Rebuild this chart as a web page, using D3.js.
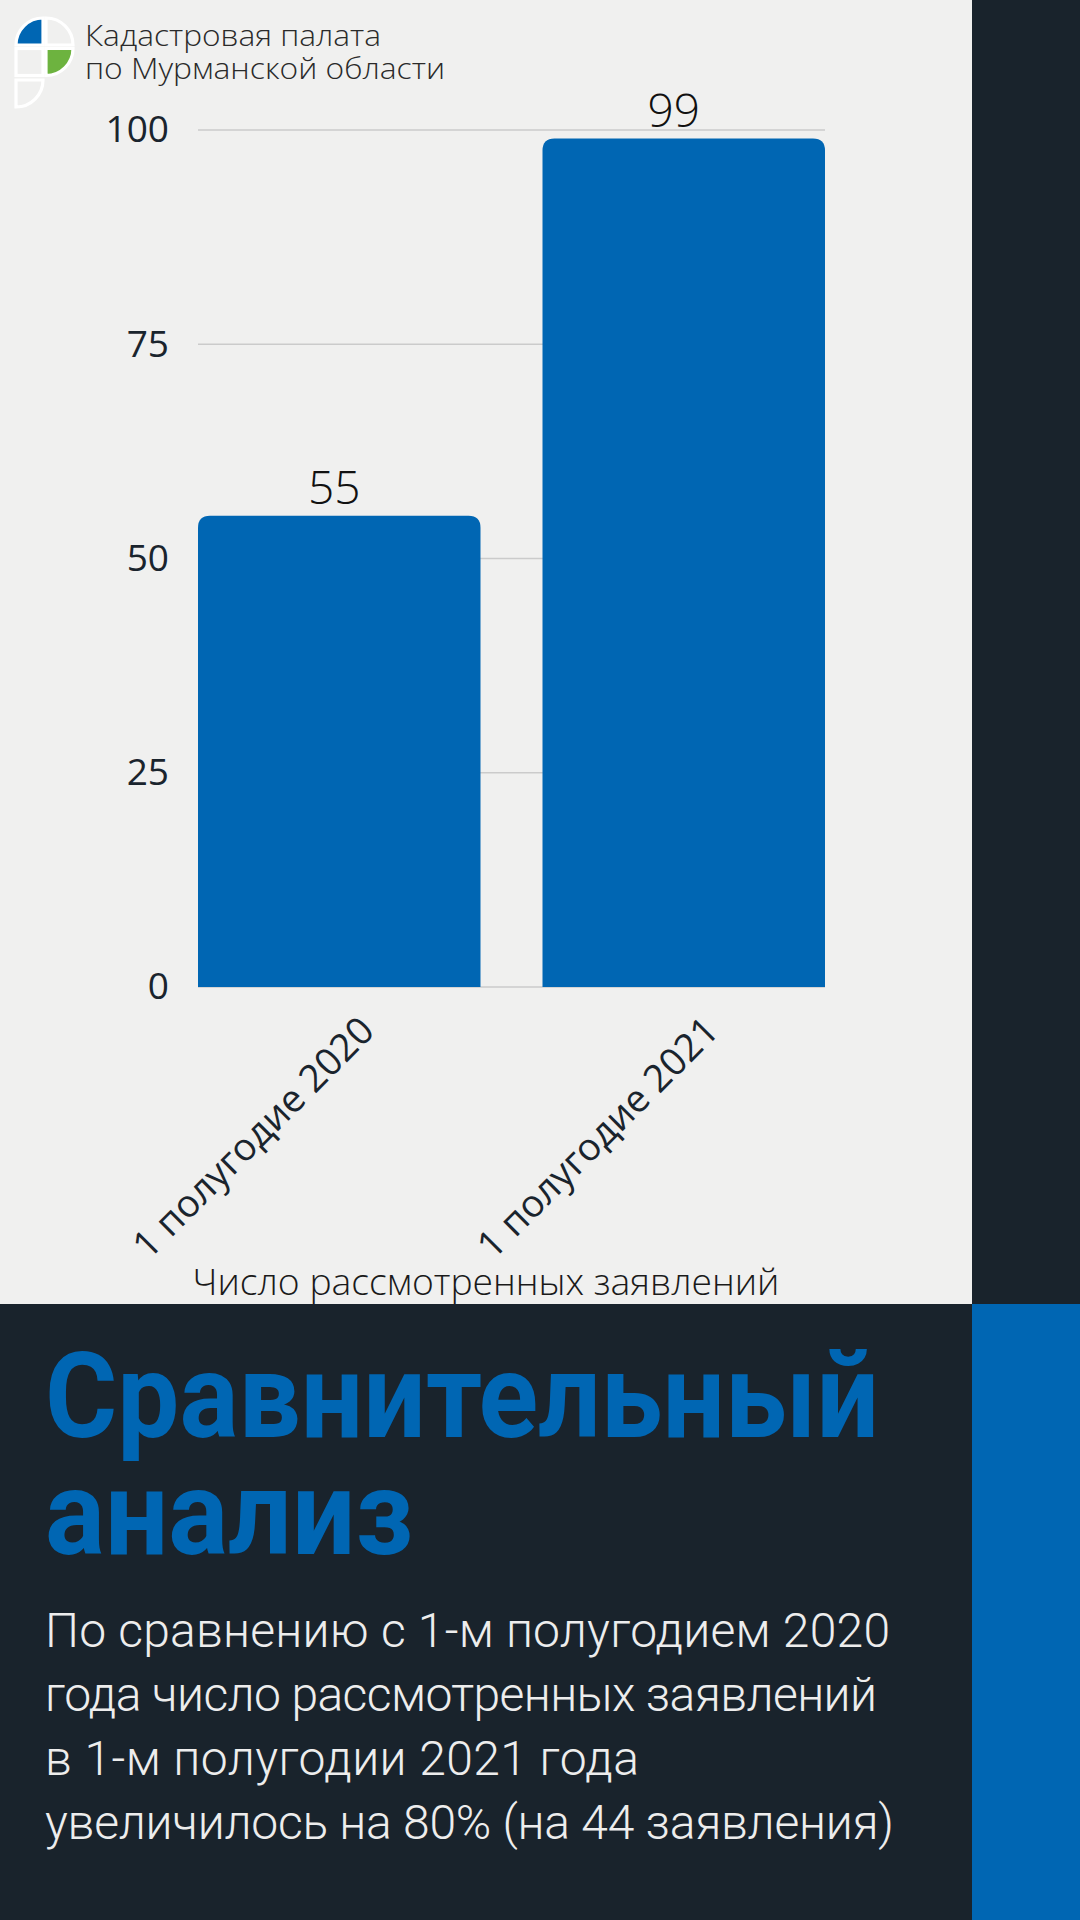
<!DOCTYPE html>
<html lang="ru">
<head>
<meta charset="utf-8">
<script src="https://cdn.jsdelivr.net/npm/d3@7"></script>
<style>
  html, body { margin: 0; padding: 0; background: #f0f0ef; }
  svg { display: block; }
</style>
</head>
<body>
<svg id="chart" width="1080" height="1920"></svg>
<script>
// Data
const categories = ["1 полугодие 2020", "1 полугодие 2021"];
const values = [55, 99];
const yTicks = [0, 25, 50, 75, 100];
const headerLines = ["Кадастровая палата", "по Мурманской области"];
const axisTitle = "Число рассмотренных заявлений";
const titleLines = ["Сравнительный", "анализ"];
const bodyLines = [
  "По сравнению с 1-м полугодием 2020",
  "года число рассмотренных заявлений",
  "в 1-м полугодии 2021 года",
  "увеличилось на 80% (на 44 заявления)"
];

// Layout widths for the text blocks
const headerWidths = [296, 360];
const titleWidths = [834, 368];
const bodyWidths = [845, 832, 594, 849];

const C = {
  bg: "#f0f0ef",
  dark: "#19232c",
  blue: "#0066b3",
  green: "#6db33f",
  grid: "#cbcbcb",
  ink: "#1a242d"
};

const svg = d3.select("#chart");
const W = 1080, H = 1920;
const panelW = 972, panelTop = 1304;

svg.append("rect").attr("width", W).attr("height", H).attr("fill", C.bg);

// Logo
const logo = svg.append("g").attr("stroke", "#ffffff").attr("stroke-width", 3.2).attr("stroke-linejoin", "miter");
const R = 27;
logo.append("path").attr("fill", C.blue)
  .attr("d", `M43,45 L${43 - R},45 A${R},${R} 0 0 1 43,${45 - R} Z`);
logo.append("path").attr("fill", C.bg)
  .attr("d", `M46,45 L46,${45 - R} A${R},${R} 0 0 1 ${46 + R},45 Z`);
logo.append("rect").attr("fill", C.bg).attr("x", 16).attr("y", 48.5).attr("width", 27).attr("height", 27);
logo.append("path").attr("fill", C.green)
  .attr("d", `M46,48.5 L${46 + R},48.5 A${R},${R} 0 0 1 46,${48.5 + R} Z`);
logo.append("path").attr("fill", C.bg)
  .attr("d", `M16,80 L43,80 A27,27 0 0 1 16,107 Z`);

svg.append("g").selectAll("text").data(headerLines).join("text")
  .attr("x", 85).attr("y", (d, i) => 46 + i * 33)
  .attr("font-family", "'Open Sans', sans-serif").attr("font-weight", 300)
  .attr("font-size", 29).attr("fill", "#2a2a2a")
  .attr("textLength", (d, i) => headerWidths[i]).attr("lengthAdjust", "spacingAndGlyphs")
  .text(d => d);

// Scales
const x = d3.scaleBand().domain(categories).range([198, 825]).paddingInner(0.18).paddingOuter(0);
const y = d3.scaleLinear().domain([0, 100]).range([987, 130]);

// Gridlines
svg.append("g").selectAll("line").data(yTicks).join("line")
  .attr("x1", 198).attr("x2", 825)
  .attr("y1", d => y(d)).attr("y2", d => y(d))
  .attr("stroke", C.grid).attr("stroke-width", 1.5);

// Y axis labels
const yAxis = svg.append("g").attr("transform", "translate(198,0)")
  .call(d3.axisLeft(y).tickValues(yTicks).tickSize(0).tickPadding(29));
yAxis.select(".domain").remove();
yAxis.selectAll("text")
  .attr("font-family", "'Open Sans', sans-serif").attr("font-size", 37).attr("fill", C.ink);

// Bars with rounded top corners
const rad = 12;
function barPath(d, i) {
  const x0 = x(categories[i]), w = x.bandwidth();
  const yt = y(d), yb = y(0);
  return `M${x0},${yb} L${x0},${yt + rad} Q${x0},${yt} ${x0 + rad},${yt} L${x0 + w - rad},${yt} Q${x0 + w},${yt} ${x0 + w},${yt + rad} L${x0 + w},${yb} Z`;
}
svg.append("g").selectAll("path").data(values).join("path")
  .attr("d", barPath).attr("fill", C.blue);

// Value labels
svg.append("g").selectAll("text").data(values).join("text")
  .attr("x", (d, i) => x(categories[i]) + x.bandwidth() / 2)
  .attr("y", d => y(d) - 12)
  .attr("dx", (d, i) => -5 - 5 * i)
  .attr("text-anchor", "middle")
  .attr("font-family", "'Open Sans', sans-serif").attr("font-weight", 300)
  .attr("font-size", 46).attr("fill", "#111111")
  .text(d => d);

// X axis labels (rotated)
const xAxis = svg.append("g").attr("transform", `translate(0,${y(0)})`)
  .call(d3.axisBottom(x).tickSize(0).tickPadding(0));
xAxis.select(".domain").remove();
xAxis.selectAll("text")
  .attr("font-family", "'Open Sans', sans-serif").attr("font-size", 38).attr("fill", C.ink)
  .attr("text-anchor", "end").attr("dy", null).attr("y", null)
  .attr("transform", "translate(37,46) rotate(-45)");

// Axis title
svg.append("text").attr("x", 486).attr("y", 1295).attr("text-anchor", "middle")
  .attr("font-family", "'Open Sans', sans-serif").attr("font-weight", 300)
  .attr("font-size", 37).attr("fill", "#1a1a1a")
  .attr("textLength", 587).attr("lengthAdjust", "spacingAndGlyphs")
  .text(axisTitle);

// Bottom panel and right strip
svg.append("rect").attr("x", 0).attr("y", panelTop).attr("width", panelW).attr("height", H - panelTop).attr("fill", C.dark);
svg.append("rect").attr("x", panelW).attr("y", 0).attr("width", W - panelW).attr("height", panelTop).attr("fill", C.dark);
svg.append("rect").attr("x", panelW).attr("y", panelTop).attr("width", W - panelW).attr("height", H - panelTop).attr("fill", C.blue);

// Title
svg.append("g").selectAll("text").data(titleLines).join("text")
  .attr("x", 45).attr("y", (d, i) => 1437 + i * 117)
  .attr("font-family", "Roboto, sans-serif").attr("font-weight", 700)
  .attr("font-size", 118).attr("fill", C.blue)
  .attr("textLength", (d, i) => titleWidths[i]).attr("lengthAdjust", "spacingAndGlyphs")
  .text(d => d);

// Body text
svg.append("g").selectAll("text").data(bodyLines).join("text")
  .attr("x", 45).attr("y", (d, i) => 1647 + i * 64)
  .attr("font-family", "Roboto, sans-serif").attr("font-weight", 300)
  .attr("font-size", 48).attr("fill", "#ededed")
  .attr("textLength", (d, i) => bodyWidths[i]).attr("lengthAdjust", "spacing")
  .text(d => d);
</script>
</body>
</html>
